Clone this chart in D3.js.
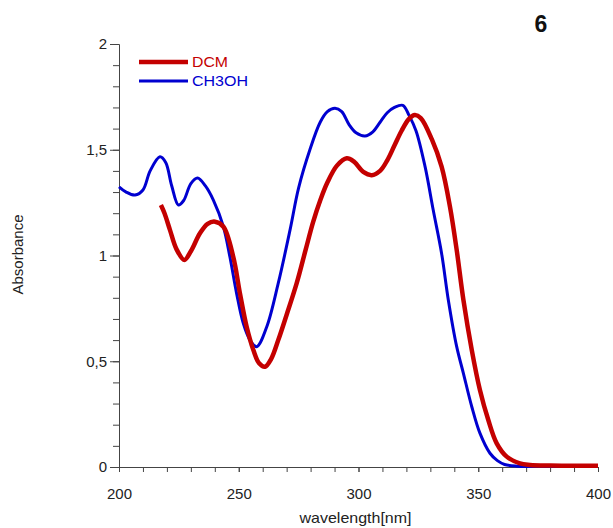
<!DOCTYPE html>
<html>
<head>
<meta charset="utf-8">
<script src="https://cdn.jsdelivr.net/npm/d3@7"></script>
<style>
  body { margin: 0; background: #fff; }
  text { font-family: "Liberation Sans", Arial, sans-serif; }
</style>
</head>
<body>
<script>
// absorbance spectra
var dcmWl = [217.5, 219, 221.3, 224, 227.3, 230, 233.8, 237, 240.1, 243.6, 247.7, 250.5, 253.3, 256.1, 258.5, 261, 263.5, 266.5, 270,
  274.2, 278, 281.1, 284, 287, 291, 295.1, 298, 302, 305.5, 309, 312, 315, 318, 321, 323.5, 326, 330.6, 334.7, 338.2, 341,
  343.8, 347.3, 350.7, 354.2, 357.7, 361.9, 367.4, 371.6, 380, 400];
var dcmAbs = [1.239, 1.2, 1.12, 1.03, 0.979, 1.02, 1.105, 1.15, 1.16, 1.136, 0.994, 0.821, 0.663, 0.553, 0.49, 0.474, 0.51, 0.6, 0.72,
  0.869, 1.03, 1.16, 1.26, 1.345, 1.425, 1.46, 1.445, 1.395, 1.38, 1.40, 1.45, 1.52, 1.59, 1.645, 1.664, 1.65, 1.55, 1.42, 1.23, 1.026,
  0.79, 0.553, 0.364, 0.222, 0.112, 0.049, 0.017, 0.01, 0.007, 0.006];

var meohWl = [200, 203, 206.7, 210, 213, 217.1, 219.5, 222, 224.8, 227, 230, 232.8, 236, 239.4, 243.6, 246.3, 249.1, 251.9, 254.7, 257.5,
  261.7, 266.5, 271.4, 275, 279.7, 284, 287, 290.2, 293, 296, 299, 302.7, 306, 309, 312, 315, 318.5, 321, 324,
  327.8, 331.2, 334.7, 337.5, 341, 343.8, 347.3, 350.7, 354.9, 358, 361, 366, 375, 385, 397.4];
var meohAbs = [1.325, 1.30, 1.286, 1.31, 1.40, 1.467, 1.44, 1.33, 1.239, 1.26, 1.34, 1.366, 1.33, 1.262, 1.136, 0.994, 0.821, 0.679, 0.6, 0.569,
  0.663, 0.869, 1.12, 1.32, 1.5, 1.63, 1.68, 1.696, 1.68, 1.62, 1.58, 1.565, 1.585, 1.63, 1.675, 1.70, 1.71, 1.665, 1.59,
  1.42, 1.215, 1.01, 0.79, 0.569, 0.443, 0.285, 0.16, 0.065, 0.03, 0.012, 0.004, 0.003, 0.002, 0.002];

var seriesNames = ["DCM", "CH3OH"];
var seriesColors = ["#c40000", "#0000d0"];
var xTicks = [200, 250, 300, 350, 400];
var yTicks = [0, 0.5, 1, 1.5, 2];

var width = 613, height = 528;
var margin = {top: 44, right: 15, bottom: 61, left: 119};
var innerWidth = width - margin.left - margin.right;
var innerHeight = height - margin.top - margin.bottom;

var dcm = dcmWl.map((w, i) => ({wl: w, a: dcmAbs[i]}));
var meoh = meohWl.map((w, i) => ({wl: w, a: meohAbs[i]}));

var x = d3.scaleLinear().domain([200, 400]).range([0, innerWidth]);
var y = d3.scaleLinear().domain([0, 2]).range([innerHeight, 0]);

var svg = d3.select("body").append("svg")
    .attr("width", width)
    .attr("height", height);

var g = svg.append("g")
    .attr("transform", "translate(" + margin.left + "," + margin.top + ")");

//Axes
var axisColor = "#444";

// minor ticks (no labels)
g.append("g")
    .attr("transform", "translate(0," + innerHeight + ")")
    .call(d3.axisBottom(x).tickValues(d3.range(200, 401, 10)).tickSize(5).tickSizeOuter(0))
    .call(a => a.selectAll("text").remove())
    .call(a => a.selectAll("line, path").attr("stroke", axisColor));

var bottomAxis = g.append("g")
    .attr("transform", "translate(0," + innerHeight + ")")
    .call(d3.axisBottom(x).tickValues(xTicks).tickSize(5).tickSizeOuter(0).tickPadding(16))
    .call(a => a.selectAll("line, path").attr("stroke", axisColor));
bottomAxis.selectAll("text")
    .attr("font-size", "15px")
    .attr("font-family", "Liberation Sans, Arial, sans-serif")
    .attr("fill", "#222");

g.append("g")
    .call(d3.axisLeft(y).tickValues(d3.range(0, 21).map(d => d / 10)).tickSize(6).tickSizeOuter(0))
    .call(a => a.selectAll("text").remove())
    .call(a => a.selectAll("line, path").attr("stroke", axisColor));

var leftAxis = g.append("g")
    .call(d3.axisLeft(y).tickValues(yTicks).tickSize(9).tickSizeOuter(0).tickPadding(3)
        .tickFormat(d => String(d).replace(".", ",")))
    .call(a => a.selectAll("line, path").attr("stroke", axisColor));
leftAxis.selectAll("text")
    .attr("font-size", "15px")
    .attr("font-family", "Liberation Sans, Arial, sans-serif")
    .attr("fill", "#222");

g.append("text")
    .attr("x", innerWidth / 2 - 3)
    .attr("y", innerHeight + 56)
    .attr("text-anchor", "middle")
    .attr("font-size", "15px")
    .attr("fill", "#222")
    .attr("textLength", 112)
    .attr("lengthAdjust", "spacingAndGlyphs")
    .text("wavelength[nm]");

g.append("text")
    .attr("transform", "rotate(-90)")
    .attr("x", -(innerHeight / 2) + 1)
    .attr("y", -96)
    .attr("text-anchor", "middle")
    .attr("font-size", "15px")
    .attr("fill", "#222")
    .text("Absorbance");

svg.append("text")
    .attr("x", 541)
    .attr("y", 32)
    .attr("text-anchor", "middle")
    .attr("font-size", "23px")
    .attr("font-weight", "bold")
    .attr("fill", "#111")
    .text("6");

//Lines
var line = d3.line()
    .x(d => x(d.wl))
    .y(d => y(d.a))
    .curve(d3.curveCatmullRom.alpha(0.5));

g.append("path")
    .datum(meoh)
    .attr("fill", "none")
    .attr("stroke", seriesColors[1])
    .attr("stroke-width", 3)
    .attr("d", line);

g.append("path")
    .datum(dcm)
    .attr("fill", "none")
    .attr("stroke", seriesColors[0])
    .attr("stroke-width", 4.5)
    .attr("d", line);

//Legend
var legend = svg.append("g").attr("transform", "translate(139,62)");
seriesNames.forEach((name, i) => {
    legend.append("line")
        .attr("x1", 0).attr("x2", 49)
        .attr("y1", i * 19).attr("y2", i * 19)
        .attr("stroke", seriesColors[i])
        .attr("stroke-width", i == 0 ? 4.5 : 3);
    legend.append("text")
        .attr("x", 53)
        .attr("y", i * 19 + 5)
        .attr("font-size", "14px")
        .attr("fill", seriesColors[i])
        .attr("textLength", i == 0 ? 36 : 56)
        .attr("lengthAdjust", "spacingAndGlyphs")
        .text(name);
});
</script>
</body>
</html>
